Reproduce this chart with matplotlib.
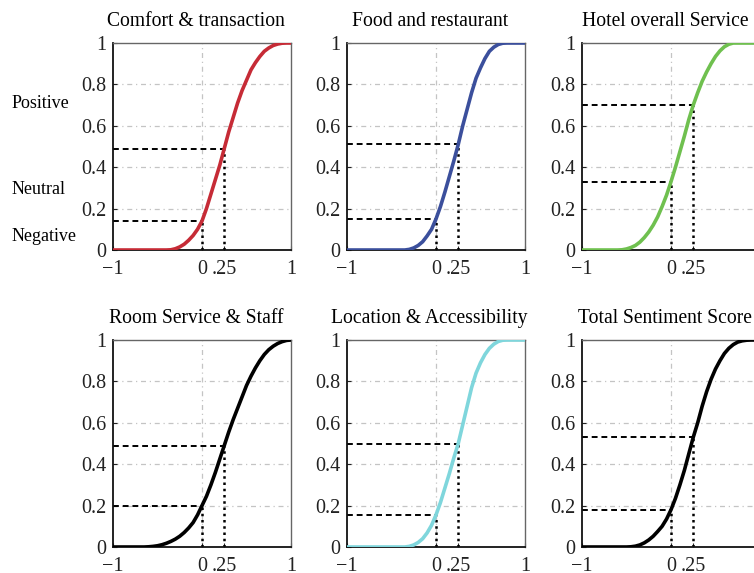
import matplotlib
matplotlib.use("Agg")
import matplotlib.pyplot as plt
import numpy as np

plt.rcParams["font.family"] = ["Liberation Serif", "DejaVu Serif"]

# sentiment score grid (shared by every panel)
score = [-1.0, -0.95, -0.9, -0.85, -0.8, -0.75, -0.7, -0.65, -0.6, -0.55,
         -0.5, -0.45, -0.4, -0.35, -0.3, -0.25, -0.2, -0.15, -0.1, -0.05,
         0.0, 0.05, 0.1, 0.15, 0.2, 0.25, 0.3, 0.35, 0.4, 0.45,
         0.5, 0.55, 0.6, 0.65, 0.7, 0.75, 0.8, 0.85, 0.9, 0.95, 1.0]

comfort = [0, 0, 0, 0, 0, 0, 0, 0, 0, 0,
           0, 0, 0, 0.001, 0.006, 0.015, 0.028, 0.047, 0.07, 0.10,
           0.14, 0.20, 0.27, 0.34, 0.41, 0.49, 0.57, 0.64, 0.71, 0.77,
           0.82, 0.87, 0.905, 0.935, 0.96, 0.976, 0.988, 0.995, 0.999, 1, 1]
food = [0, 0, 0, 0, 0, 0, 0, 0, 0, 0,
        0, 0, 0, 0, 0.003, 0.01, 0.022, 0.04, 0.068, 0.10,
        0.15, 0.21, 0.28, 0.355, 0.43, 0.51, 0.60, 0.68, 0.76, 0.83,
        0.88, 0.925, 0.96, 0.98, 0.993, 0.999, 1, 1, 1, 1, 1]
hotel = [0, 0, 0, 0, 0, 0, 0, 0, 0, 0.001,
         0.005, 0.012, 0.022, 0.038, 0.06, 0.087, 0.12, 0.16, 0.21, 0.265,
         0.33, 0.40, 0.475, 0.55, 0.63, 0.70, 0.76, 0.815, 0.86, 0.90,
         0.935, 0.962, 0.982, 0.994, 1, 1, 1, 1, 1, 1, 1]
room = [0, 0, 0, 0, 0, 0, 0, 0, 0.001, 0.003,
        0.006, 0.011, 0.018, 0.027, 0.038, 0.052, 0.07, 0.092, 0.118, 0.155,
        0.20, 0.245, 0.30, 0.36, 0.425, 0.49, 0.555, 0.615, 0.67, 0.725,
        0.78, 0.825, 0.865, 0.90, 0.93, 0.953, 0.97, 0.983, 0.992, 0.998, 1]
location = [0, 0, 0, 0, 0, 0, 0, 0, 0, 0,
            0, 0, 0, 0, 0.003, 0.01, 0.022, 0.04, 0.068, 0.105,
            0.155, 0.215, 0.285, 0.355, 0.43, 0.50, 0.59, 0.68, 0.77, 0.84,
            0.89, 0.93, 0.96, 0.98, 0.993, 0.999, 1, 1, 1, 1, 1]
total = [0, 0, 0, 0, 0, 0, 0, 0, 0, 0,
         0, 0.001, 0.004, 0.01, 0.02, 0.034, 0.052, 0.075, 0.10, 0.135,
         0.18, 0.235, 0.30, 0.37, 0.45, 0.53, 0.60, 0.68, 0.75, 0.81,
         0.86, 0.90, 0.935, 0.96, 0.978, 0.99, 0.996, 0.999, 1, 1, 1]

titles = ["Comfort & transaction", "Food and restaurant", "Hotel overall Service",
          "Room Service & Staff", "Location & Accessibility", "Total Sentiment Score"]
curves = [comfort, food, hotel, room, location, total]
colors = ["#c62b36", "#3b4f9c", "#6fc04f", "#000000", "#7fd6dc", "#000000"]

xticks = [-1, 0, 0.25, 1]
xticklabels = ["\u22121", "0", ".25", "1"]
yticks = [0, 0.2, 0.4, 0.6, 0.8, 1]
yticklabels = ["0", "0.2", "0.4", "0.6", "0.8", "1"]
marks = [0, 0.25]

sentiment_labels = ["Positive", "Neutral", "Negative"]
sentiment_y = [0.71, 0.29, 0.065]

W, H = 754, 573
fig = plt.figure(figsize=(W / 100, H / 100), dpi=100)

lefts = [113, 347, 582]
tops = [43, 340]
aw, ah = 178, 207

x = np.array(score)
for i, (title, ys, col) in enumerate(zip(titles, curves, colors)):
    r, c = divmod(i, 3)
    ax = fig.add_axes([lefts[c] / W, 1 - (tops[r] + ah) / H, aw / W, ah / H])
    y = np.array(ys)

    # light dash-dot grid
    for g in [0.2, 0.4, 0.6, 0.8]:
        ax.axhline(g, color="#c4c4c4", lw=0.9, ls=(0, (4, 3, 1, 3)), zorder=1)
    ax.axvline(0, color="#c4c4c4", lw=0.9, ls=(0, (4, 3, 1, 3)), zorder=1)

    # guides at score 0 and .25
    for m in marks:
        v = y[np.isclose(x, m)][0]
        ax.plot([-1, m], [v, v], color="black", lw=1.4, ls=(0, (3, 2)), zorder=2)
        ax.plot([m, m], [0, v], color="black", lw=1.8, ls=(0, (1, 1.5)), zorder=2)

    ax.plot(x, y, color=col, lw=2.6, solid_capstyle="round",
            solid_joinstyle="round", zorder=3)

    ax.set_xlim(-1, 1)
    ax.set_ylim(0, 1)
    ax.set_xticks(xticks)
    ax.set_xticklabels(xticklabels)
    ax.set_yticks(yticks)
    ax.set_yticklabels(yticklabels)
    ax.tick_params(direction="in", length=3, width=0.8, labelsize=14.5,
                   colors="#222222")
    ax.tick_params(axis="x", pad=7)
    ax.tick_params(axis="y", pad=5)
    for side, s in ax.spines.items():
        if side in ("left", "bottom"):
            s.set_color("#111111")
            s.set_linewidth(1.3)
        else:
            s.set_color("#666666")
            s.set_linewidth(1.0)
    ax.set_title(title, fontsize=14.1, pad=12)
    ax.title.set_x(0.465)

    if i == 0:
        for lab, yy in zip(sentiment_labels, sentiment_y):
            ax.text(12 / W, 1 - (43 + ah * (1 - yy)) / H, lab, fontsize=13,
                    ha="left", va="center", transform=fig.transFigure)

fig.savefig("out.png", dpi=100)
